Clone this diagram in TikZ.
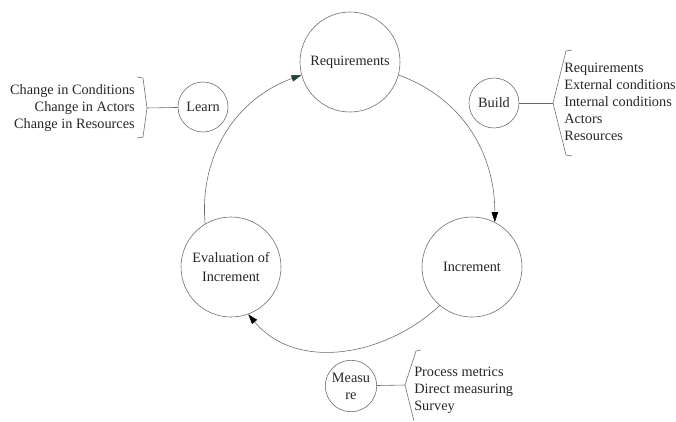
\documentclass[tikz,border=0pt]{standalone}
\usepackage{fontspec}
\setmainfont{Liberation Serif}
\usetikzlibrary{arrows.meta}
\definecolor{linegray}{RGB}{105,105,105}
\definecolor{tipgreen}{RGB}{25,70,45}

\begin{document}
\begin{tikzpicture}[x=0.7pt, y=-0.7pt, font=\fontsize{10}{12}\selectfont, text=black!85,
  bigcirc/.style={circle, draw=linegray, align=center, minimum size=70pt, inner sep=1pt, font=\fontsize{10}{13}\selectfont},
  smallcirc/.style={circle, draw=linegray, align=center, minimum size=35pt, inner sep=1pt},
  flow/.style={draw=linegray, -{Triangle[length=7pt, width=4.5pt, color=black]}},
  list/.style={inner sep=0pt}]
\useasboundingbox (0,0) rectangle (676,421);

\node [bigcirc] (req) at (350,62) {Requirements};
\node [bigcirc] (inc) at (472,267) {Increment};
\node [bigcirc] (evl) at (231,267) {Evaluation of\\Increment};
\node [smallcirc] (learn) at (203,107) {Learn};
\node [smallcirc] (build) at (494,103) {Build};
\node [smallcirc, minimum size=36pt] (meas) at (351,386) {Measu\\re};

\draw [flow, -{Triangle[length=7pt, width=4.5pt, color=tipgreen]}] (evl.121) to[out=95, in=200] (req.195);
\draw [flow] (req.345) to[out=-20, in=90] (inc.63);
\draw [flow] (inc.230) to[out=-137, in=-50] (evl.290);

\coordinate (lrntip) at (147,108);
\coordinate (bldtip) at (553,103);
\coordinate (mstip) at (405,385);
\draw [linegray] (137,77) -- (143,78) -- (lrntip) -- (143,137) -- (137,138);
\draw [linegray] (572,50) -- (566,51) -- (bldtip) -- (566,155) -- (572,156);
\draw [linegray] (421,350) -- (416,351) -- (mstip) -- (414,421);
\draw [linegray] (learn) -- (lrntip);
\draw [linegray] (build) -- (bldtip);
\draw [linegray] (meas) -- (mstip);

\node [list, anchor=east, align=right] (lrnlist) at (135,108) {Change in Conditions\\Change in Actors\\Change in Resources};
\node [list, anchor=west, align=left] (bldlist) at (564,102) {Requirements\\External conditions\\Internal conditions\\Actors\\Resources};
\node [list, anchor=west, align=left] (mslist) at (414,390) {Process metrics\\Direct measuring\\Survey};
\end{tikzpicture}
\end{document}
